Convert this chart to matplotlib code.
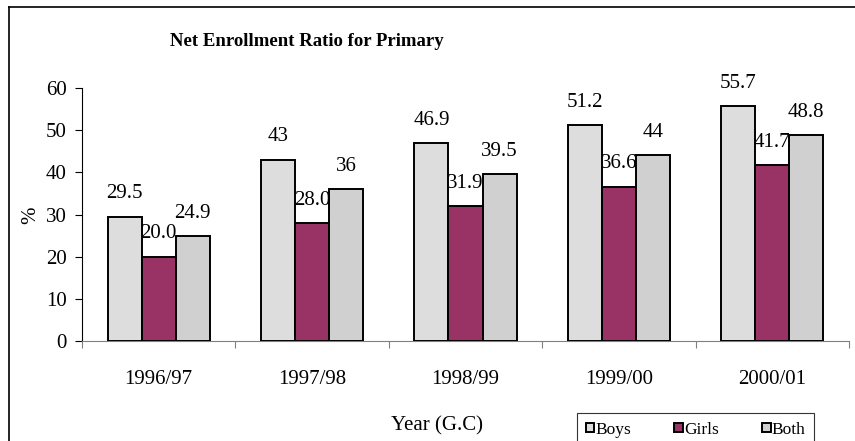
#!/usr/bin/env python3

import numpy as np
import matplotlib
matplotlib.use('Agg')
import matplotlib.pyplot as plt
from matplotlib.lines import Line2D

years = ['1996/97', '1997/98', '1998/99', '1999/00', '2000/01']
boys = [29.5, 43, 46.9, 51.2, 55.7]
girls = [20.0, 28.0, 31.9, 36.6, 41.7]
both = [24.9, 36, 39.5, 44, 48.8]
boys_labels = ['29.5', '43', '46.9', '51.2', '55.7']
girls_labels = ['20.0', '28.0', '31.9', '36.6', '41.7']
both_labels = ['24.9', '36', '39.5', '44', '48.8']

plt.rcParams['font.family'] = ['Liberation Serif', 'DejaVu Serif']

fig = plt.figure(figsize=(8.55, 4.41), dpi=100)
ax = fig.add_axes([82 / 855, 1 - 341 / 441, 767 / 855, 253 / 441])

x = np.arange(len(years))
w = 0.222
series = [(boys, boys_labels, '#dddddd', 'Boys', -w),
          (girls, girls_labels, '#993366', 'Girls', 0),
          (both, both_labels, '#d0d0d0', 'Both', w)]

handles = []
for vals, labs, col, name, off in series:
    bars = ax.bar(x + off, vals, w, color=col, edgecolor='black', linewidth=1.4,
                  label=name, zorder=3)
    handles.append(bars)
    for xi, v, s in zip(x + off, vals, labs):
        ax.annotate(s, (xi, v), xytext=(0, 9.5), textcoords='offset points',
                    ha='center', va='bottom', fontsize=15, zorder=4)

ax.set_xlim(-0.5, len(years) - 0.5)
ax.set_ylim(0, 60)
ax.set_yticks(range(0, 61, 10))
ax.tick_params(axis='y', labelsize=15, length=5, width=0.8, pad=6, direction='out')

ax.set_xticks(x)
ax.set_xticklabels(years)
ax.set_xticks(np.arange(-0.5, len(years)), minor=True)
ax.tick_params(axis='x', which='major', length=0, labelsize=15, pad=21)
ax.tick_params(axis='x', which='minor', length=5, width=0.8, color='#808080', direction='out')

for side in ('top', 'right'):
    ax.spines[side].set_visible(False)
ax.spines['bottom'].set_color('#808080')
ax.spines['left'].set_color('black')

fig.text(31 / 855, 1 - 215 / 441, '%', rotation=90, ha='center', va='center', fontsize=15)
fig.text(437 / 855, 1 - 426 / 441, 'Year (G.C)', ha='center', va='center', fontsize=15)
fig.text(170 / 855, 1 - 42 / 441, 'Net Enrollment Ratio for Primary', ha='left',
         va='center', fontsize=13.5, fontweight='bold')

leg = fig.legend(handles=handles, loc='upper left', bbox_to_anchor=(577 / 855, 1 - 413 / 441),
                 ncol=3, fontsize=12.5, frameon=True, fancybox=False, handlelength=0.5,
                 handleheight=0.5, handletextpad=0.05, columnspacing=2.5, borderpad=0.5,
                 borderaxespad=0)
leg.get_frame().set_edgecolor('black')
leg.get_frame().set_linewidth(0.8)

# outer chart border
fig.add_artist(Line2D([9 / 855, 9 / 855], [0, 1 - 7 / 441], color='black', linewidth=1.2))
fig.add_artist(Line2D([9 / 855, 1], [1 - 7 / 441, 1 - 7 / 441], color='black', linewidth=1.2))

fig.savefig('out.png', dpi=100)
